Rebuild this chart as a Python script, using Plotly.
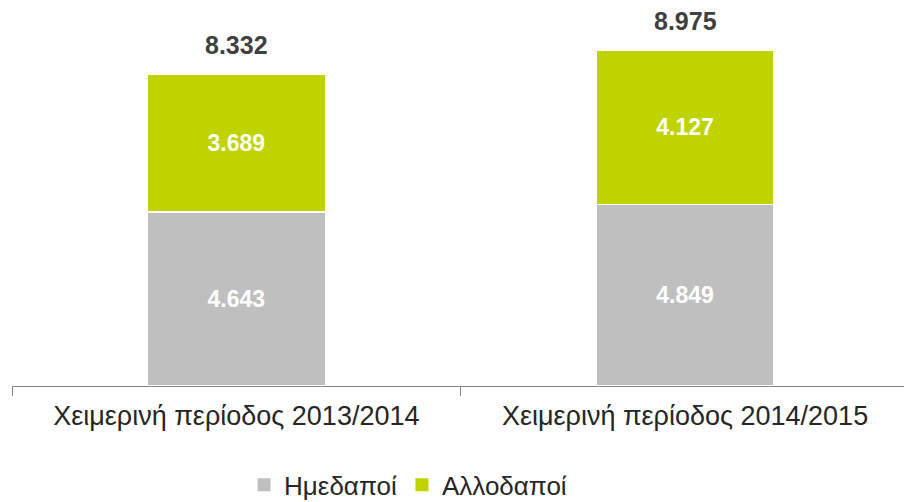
import plotly.graph_objects as go

categories = ["Χειμερινή περίοδος 2013/2014", "Χειμερινή περίοδος 2014/2015"]
domestic = [4.643, 4.849]
foreign = [3.689, 4.127]
totals = [8.332, 8.975]
series_names = ["Ημεδαποί", "Αλλοδαποί"]

GREY = "#BFBFBF"
GREEN = "#BED300"
FONT = "Liberation Sans, Arial, sans-serif"


def fmt(v):
    return f"{v:.3f}"


fig = go.Figure()
for name, vals, col in [(series_names[0], domestic, GREY), (series_names[1], foreign, GREEN)]:
    fig.add_trace(go.Bar(
        x=categories, y=vals, name=name, showlegend=False,
        marker=dict(color=col, line=dict(color="white", width=1.5)),
        width=0.397,
        text=[fmt(v) for v in vals], textposition="inside", insidetextanchor="middle",
        textfont=dict(family=FONT, size=23, color="white", weight="bold"),
        hoverinfo="skip",
    ))

# legend entries drawn as small square markers
for name, col in [(series_names[0], GREY), (series_names[1], GREEN)]:
    fig.add_trace(go.Scatter(
        x=[None], y=[None], mode="markers", name=name,
        marker=dict(symbol="square", size=13, color=col),
    ))

for c, t in zip(categories, totals):
    fig.add_annotation(
        x=c, y=t, text=f"<b>{fmt(t)}</b>", showarrow=False,
        yanchor="bottom", yshift=13,
        font=dict(family=FONT, size=25, color="#404040"),
    )

fig.update_layout(
    width=904, height=502,
    margin=dict(l=12, r=0, t=20, b=116, autoexpand=False),
    paper_bgcolor="white", plot_bgcolor="white",
    barmode="stack",
    font=dict(family=FONT, size=26, color="#262626"),
    xaxis=dict(
        range=[-0.5, 1.488], automargin=False,
        showline=True, linecolor="#868686", linewidth=1.3,
        ticks="outside", ticklen=9, tickcolor="#868686", tickwidth=1.3,
        tickson="boundaries", ticklabelstandoff=5,
        tickfont=dict(family=FONT, size=27, color="#262626"),
        showgrid=False,
    ),
    yaxis=dict(range=[0, 9.775], visible=False, showgrid=False, zeroline=False,
               automargin=False),
    legend=dict(
        orientation="h", x=0.444, xanchor="center", y=-0.27, yanchor="middle",
        font=dict(family=FONT, size=26, color="#262626"),
        itemwidth=30, traceorder="normal",
    ),
    showlegend=True,
)

fig.write_html("out.html")
